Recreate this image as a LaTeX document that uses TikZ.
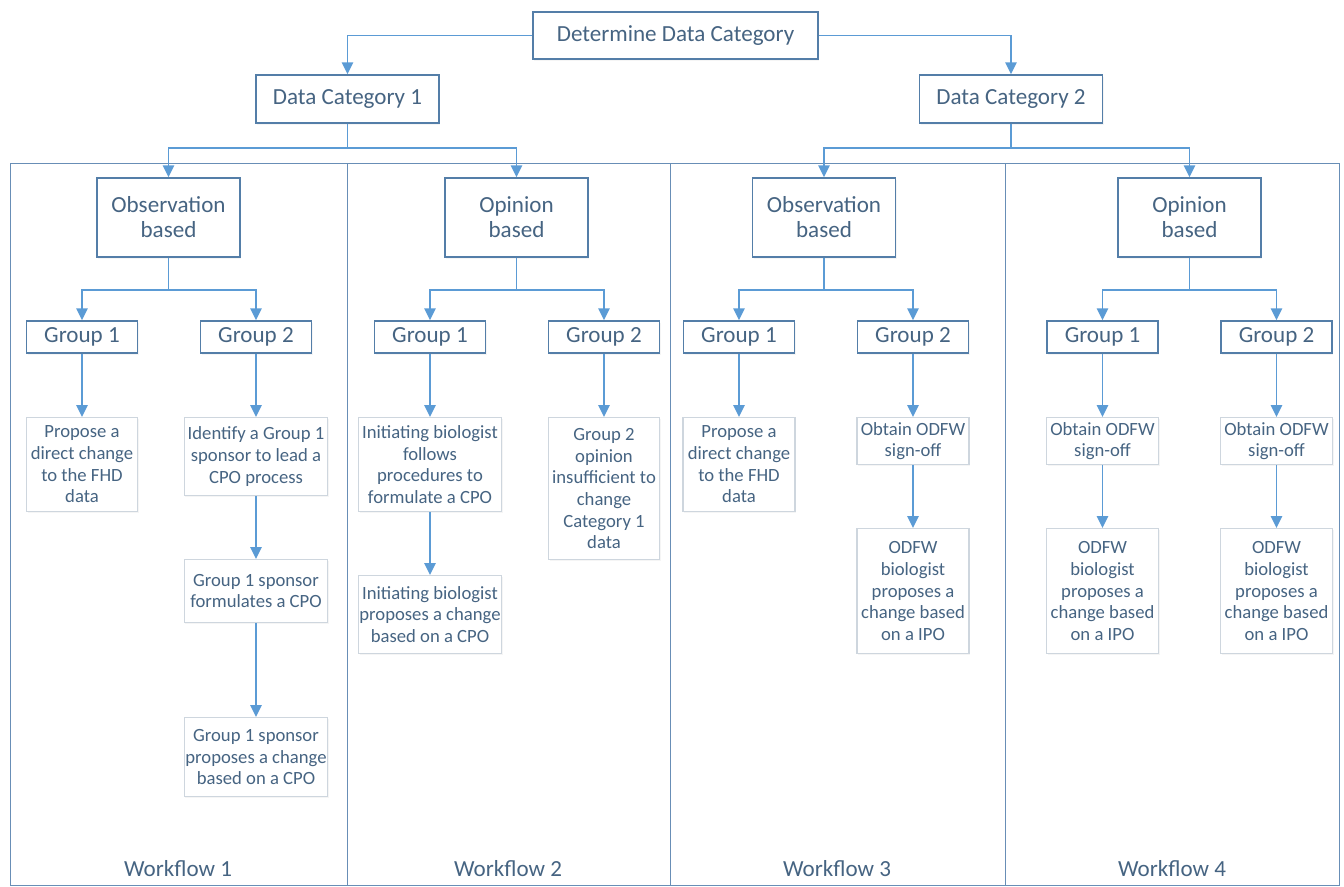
\documentclass[tikz,border=0pt]{standalone}
\usepackage{fontspec}
\setmainfont{Carlito}
\usepackage{tikz}
\usetikzlibrary{arrows.meta,shadows}

\definecolor{linecol}{RGB}{91,155,213}
\definecolor{boxcol}{RGB}{84,126,168}
\definecolor{txtcol}{RGB}{70,100,130}
\definecolor{leafcol}{RGB}{206,214,222}
\definecolor{framecol}{RGB}{104,142,182}

\begin{document}
\begin{tikzpicture}[x=0.75pt, y=-0.75pt,
	>={Triangle[length=9pt,width=8.5pt]},
	box/.style={draw=boxcol, line width=1.1pt, fill=white, text=txtcol, align=center, inner sep=0pt,
		font=\fontsize{17.3}{18.75}\selectfont, drop shadow={shadow xshift=0.8pt, shadow yshift=-1.2pt, fill=black!8}},
	leaf/.style={draw=leafcol, line width=0.8pt, fill=white, text=txtcol, align=center, inner sep=0pt, anchor=north,
		font=\fontsize{14}{16.25}\selectfont, drop shadow={shadow xshift=0.8pt, shadow yshift=-1.2pt, fill=black!8}},
	wf/.style={text=txtcol, font=\fontsize{17.3}{18.75}\selectfont},
	link/.style={->, linecol, line width=1.4pt}]
	\useasboundingbox (0,0) rectangle (1344,886);

	\draw[framecol, line width=0.75pt] (10,163) rectangle (1339,885);
	\foreach \x in {347,670,1005}
	\draw[framecol, line width=0.75pt] (\x,163) -- (\x,885);
	\foreach \x/\n in {178/1,508/2,837/3,1172/4}
	\node[wf] (wf\n) at (\x,869) {Workflow \n};

	\node[box, minimum width=213.75pt, minimum height=35.25pt] (top) at (675.5,35.5) {Determine Data Category};
	\node[box, minimum width=137.25pt, minimum height=36pt] (dc1) at (347.5,99) {Data Category 1};
	\node[box, minimum width=137.25pt, minimum height=36pt] (dc2) at (1011,99) {Data Category 2};

	\node[box, minimum width=107.25pt, minimum height=59.25pt] (obs1) at (168.5,217.5) {Observation\\based};
	\node[box, minimum width=107.25pt, minimum height=59.25pt] (op1) at (516.5,217.5) {Opinion\\based};
	\node[box, minimum width=107.25pt, minimum height=59.25pt] (obs2) at (824,217.5) {Observation\\based};
	\node[box, minimum width=107.25pt, minimum height=59.25pt] (op2) at (1189.5,217.5) {Opinion\\based};

	\foreach \n/\x/\g in {g11/82/1,g12/256/2,g21/430/1,g22/604/2,g31/739/1,g32/913/2,g41/1102.5/1,g42/1276.5/2}
	\node[box, minimum width=83.25pt, minimum height=24pt] (\n) at (\x,337) {Group \g};

	\node[leaf, minimum width=83.25pt, minimum height=70.5pt] (l11) at (82,417) {Propose a\\direct change\\to the FHD\\data};
	\node[leaf, minimum width=107.6pt, minimum height=58.5pt] (l12a) at (256,417) {Identify a Group 1\\sponsor to lead a\\CPO process};
	\node[leaf, minimum width=107.6pt, minimum height=47.25pt] (l12b) at (256,559) {Group 1 sponsor\\formulates a CPO};
	\node[leaf, minimum width=107.6pt, minimum height=59.25pt] (l12c) at (256,717) {Group 1 sponsor\\proposes a change\\based on a CPO};
	\node[leaf, minimum width=107.25pt, minimum height=70.5pt] (l21a) at (430,417) {Initiating biologist\\follows\\procedures to\\formulate a CPO};
	\node[leaf, minimum width=107.25pt, minimum height=58.5pt] (l21b) at (430,575) {Initiating biologist\\proposes a change\\based on a CPO};
	\node[leaf, minimum width=83.25pt, minimum height=106.5pt] (l22) at (604,417) {Group 2\\opinion\\insufficient to\\change\\Category 1\\data};
	\node[leaf, minimum width=84pt, minimum height=70.5pt] (l31) at (739,417) {Propose a\\direct change\\to the FHD\\data};
	\foreach \g/\x in {32/913,41/1102.5,42/1276.5}{
		\node[leaf, minimum width=84pt, minimum height=35.25pt] (l\g a) at (\x,417) {Obtain ODFW\\sign-off};
		\node[leaf, minimum width=84pt, minimum height=93.75pt] (l\g b) at (\x,528) {ODFW\\biologist\\proposes a\\change based\\on a IPO};
	}

	\draw[link] (top.west) -| (dc1);
	\draw[link] (top.east) -| (dc2);
	\foreach \a/\b in {dc1/obs1,dc1/op1,dc2/obs2,dc2/op2}
	\draw[link] (\a.south) -- ++(0,24) -| (\b);
	\foreach \a/\b in {obs1/g11,obs1/g12,op1/g21,op1/g22,obs2/g31,obs2/g32,op2/g41,op2/g42}
	\draw[link] (\a.south) -- ++(0,32) -| (\b);
	\foreach \a/\b in {g11/l11,g12/l12a,l12a/l12b,l12b/l12c,g21/l21a,l21a/l21b,g22/l22,g31/l31,g32/l32a,l32a/l32b,g41/l41a,l41a/l41b,g42/l42a,l42a/l42b}
	\draw[link] (\a.south) -- (\b.north);
\end{tikzpicture}
\end{document}
